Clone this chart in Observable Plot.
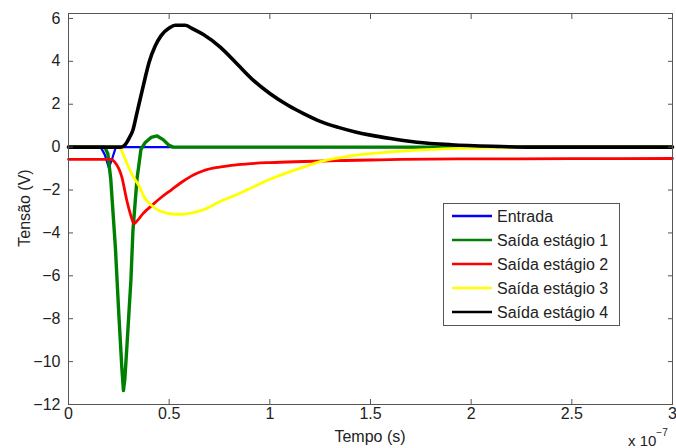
<!DOCTYPE html>
<html>
<head>
<meta charset="utf-8">
<script src="https://cdn.jsdelivr.net/npm/d3@7"></script>
<script src="https://cdn.jsdelivr.net/npm/@observablehq/plot@0.6"></script>
<style>
  html, body { margin: 0; padding: 0; background: white; }
  svg text { font-family: "Liberation Sans", Arial, Helvetica, sans-serif; }
</style>
</head>
<body>
<div id="chart"></div>
<script>
// Time in units of 1e-7 s
const tEntrada = [0, 0.16, 0.18, 0.2, 0.215, 0.235, 3];
const vEntrada = [0, 0, -0.35, -0.95, -0.6, 0, 0];

const tS1 = [0, 0.18, 0.195, 0.21, 0.233, 0.25, 0.265, 0.273, 0.28, 0.29, 0.31, 0.32, 0.34, 0.36, 0.38, 0.41, 0.44, 0.47, 0.5, 0.52, 3];
const vS1 = [0, 0, -0.3, -1.5, -4.7, -7.8, -10.3, -11.35, -10.8, -9.3, -6.2, -3.9, -1.5, -0.1, 0.2, 0.45, 0.52, 0.35, 0.08, 0, 0];

const tS2 = [0, 0.21, 0.23, 0.265, 0.29, 0.31, 0.325, 0.34, 0.37, 0.41, 0.46, 0.51, 0.56, 0.62, 0.67, 0.75, 0.84, 1.0, 1.17, 1.34, 1.5, 1.65, 2.0, 2.5, 3];
const vS2 = [-0.57, -0.57, -0.7, -1.4, -2.5, -3.2, -3.57, -3.45, -3.1, -2.75, -2.35, -2.0, -1.65, -1.3, -1.1, -0.93, -0.82, -0.72, -0.67, -0.63, -0.6, -0.57, -0.55, -0.54, -0.53];

const tS3 = [0, 0.25, 0.27, 0.29, 0.32, 0.35, 0.38, 0.41, 0.46, 0.53, 0.58, 0.62, 0.67, 0.75, 0.84, 0.92, 1.0, 1.09, 1.17, 1.25, 1.34, 1.42, 1.5, 1.6, 1.75, 1.9, 2.1, 2.3, 3];
const vS3 = [0, 0, -0.3, -0.75, -1.35, -1.8, -2.4, -2.7, -3.0, -3.13, -3.12, -3.05, -2.92, -2.55, -2.2, -1.85, -1.5, -1.18, -0.92, -0.68, -0.5, -0.38, -0.3, -0.22, -0.13, -0.07, -0.02, 0, 0];

const tS4 = [0, 0.26, 0.28, 0.3, 0.32, 0.34, 0.36, 0.38, 0.4, 0.43, 0.46, 0.5, 0.53, 0.58, 0.62, 0.67, 0.755, 0.84, 0.92, 1.0, 1.09, 1.17, 1.25, 1.34, 1.42, 1.5, 1.6, 1.73, 1.9, 2.15, 2.3, 3];
const vS4 = [0, 0, 0.1, 0.4, 0.8, 1.6, 2.4, 3.2, 3.95, 4.7, 5.2, 5.55, 5.68, 5.68, 5.5, 5.25, 4.65, 3.85, 3.1, 2.5, 1.95, 1.55, 1.2, 0.92, 0.72, 0.56, 0.4, 0.23, 0.11, 0.03, 0, 0];

const seriesNames = ["Entrada", "Saída estágio 1", "Saída estágio 2", "Saída estágio 3", "Saída estágio 4"];
const seriesColors = ["#0000ff", "#008000", "#ff0000", "#ffff00", "#000000"];
const xTicks = [0, 0.5, 1, 1.5, 2, 2.5, 3];
const yTicks = [-12, -10, -8, -6, -4, -2, 0, 2, 4, 6];
const xLabel = "Tempo (s)";
const yLabel = "Tensão (V)";

const ts = [tEntrada, tS1, tS2, tS3, tS4];
const vs = [vEntrada, vS1, vS2, vS3, vS4];
const widths = [2.2, 3.4, 2.8, 2.8, 3.6];
const curves = ["linear", "linear", "monotone-x", "monotone-x", "monotone-x"];

const W = 676, H = 448;
const axisColor = "#555";

const lines = seriesNames.map((name, i) => {
  const rows = ts[i].map((x, j) => ({t: x, v: vs[i][j]}));
  return Plot.line(rows, {x: "t", y: "v", stroke: seriesColors[i], strokeWidth: widths[i], curve: curves[i]});
});

const chart = Plot.plot({
  width: W, height: H,
  marginLeft: 68, marginRight: 4, marginTop: 13, marginBottom: 44,
  style: {fontFamily: "'Liberation Sans', Arial, Helvetica, sans-serif", fontSize: "16px", color: "#222", background: "white", overflow: "visible"},
  x: {domain: [0, 3], label: null},
  y: {domain: [-12, 6.23], label: null},
  marks: [
    ...lines,
    Plot.frame({stroke: axisColor, strokeWidth: 1}),
    Plot.axisX(xTicks, {anchor: "bottom", tickSize: -5, tickPadding: 8, stroke: axisColor, fill: "#222", label: null, tickFormat: d => String(d)}),
    Plot.axisX(xTicks, {anchor: "top", tickSize: -5, tickPadding: 8, stroke: axisColor, label: null, tickFormat: () => ""}),
    Plot.axisY(yTicks, {anchor: "left", tickSize: -5, tickPadding: 13, stroke: axisColor, fill: "#222", label: null}),
    Plot.axisY(yTicks, {anchor: "right", tickSize: -5, tickPadding: 8, stroke: axisColor, label: null, tickFormat: () => ""})
  ]
});

document.getElementById("chart").appendChild(chart);

const svg = d3.select(chart);
const font = "'Liberation Sans', Arial, Helvetica, sans-serif";

svg.append("text")
  .attr("x", 370).attr("y", 442)
  .attr("text-anchor", "middle")
  .attr("font-size", 16).attr("font-family", font).attr("fill", "#222")
  .text(xLabel);

svg.append("text")
  .attr("transform", "translate(30,208) rotate(-90)")
  .attr("text-anchor", "middle")
  .attr("font-size", 16).attr("font-family", font).attr("fill", "#222")
  .text(yLabel);

const mult = svg.append("text")
  .attr("x", 628).attr("y", 446)
  .attr("text-anchor", "start")
  .attr("font-size", 15).attr("font-family", font).attr("fill", "#222");
mult.append("tspan").text("x 10");
mult.append("tspan").attr("dy", -10).attr("font-size", 10).text("−7");

// Legend
const lg = svg.append("g").attr("text-anchor", "start");
lg.append("rect")
  .attr("x", 443.5).attr("y", 203.5).attr("width", 176).attr("height", 122)
  .attr("fill", "white").attr("stroke", axisColor).attr("stroke-width", 1);
seriesNames.forEach((name, i) => {
  const yy = 216 + i * 24;
  lg.append("line")
    .attr("x1", 452).attr("x2", 492).attr("y1", yy).attr("y2", yy)
    .attr("stroke", seriesColors[i]).attr("stroke-width", 2.6);
  lg.append("text")
    .attr("x", 497).attr("y", yy).attr("dy", "0.35em")
    .attr("text-anchor", "start")
    .attr("font-size", 16).attr("font-family", font).attr("fill", "#222")
    .text(name);
});
</script>
</body>
</html>
